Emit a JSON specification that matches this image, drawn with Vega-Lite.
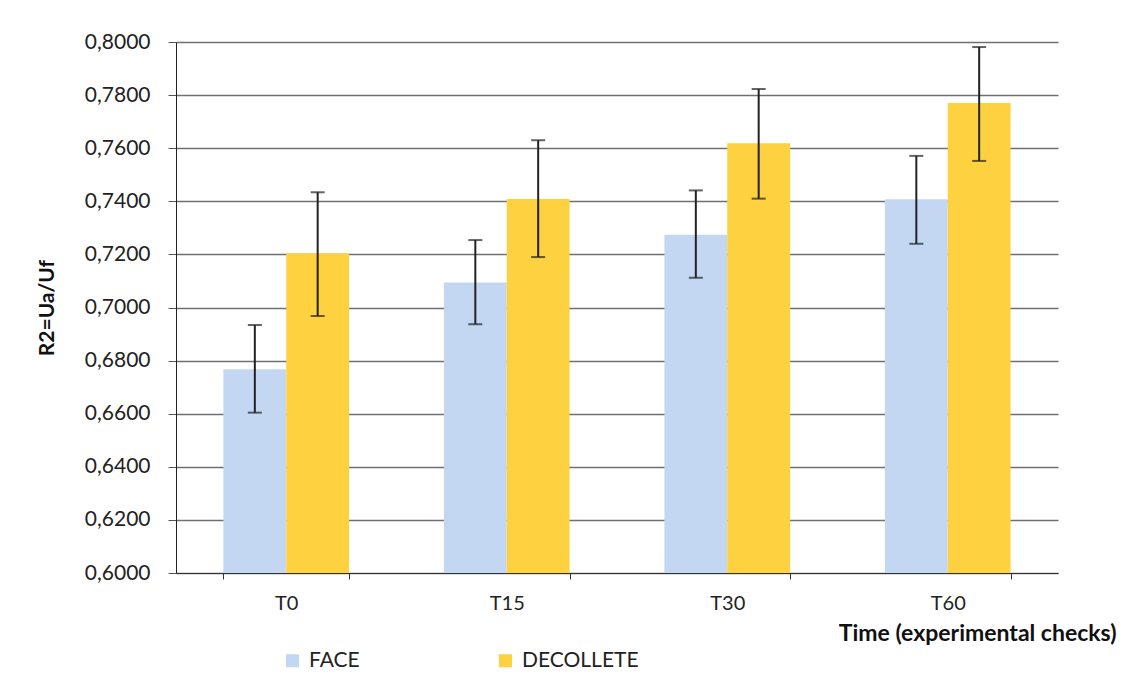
{
  "$schema": "https://vega.github.io/schema/vega-lite/v6.json",
  "width": 882,
  "height": 531,
  "autosize": {"type": "none"},
  "padding": {"left": 176, "top": 42, "right": 68, "bottom": 112},
  "background": "white",
  "config": {
    "font": "Lato",
    "view": {"stroke": null},
    "axis": {"labelFont": "Lato", "titleFont": "Lato", "labelColor": "#222", "titleColor": "#111"}
  },
  "data": {
    "values": [
      {"time": "T0", "group": "FACE", "value": 0.6767, "lo": 0.6604, "hi": 0.6934},
      {"time": "T0", "group": "DECOLLETE", "value": 0.7204, "lo": 0.6968, "hi": 0.7434},
      {"time": "T15", "group": "FACE", "value": 0.7094, "lo": 0.6937, "hi": 0.7254},
      {"time": "T15", "group": "DECOLLETE", "value": 0.7409, "lo": 0.7190, "hi": 0.7630},
      {"time": "T30", "group": "FACE", "value": 0.7274, "lo": 0.7112, "hi": 0.7441},
      {"time": "T30", "group": "DECOLLETE", "value": 0.7619, "lo": 0.7410, "hi": 0.7823},
      {"time": "T60", "group": "FACE", "value": 0.7408, "lo": 0.7240, "hi": 0.7571},
      {"time": "T60", "group": "DECOLLETE", "value": 0.7770, "lo": 0.7552, "hi": 0.7981}
    ]
  },
  "encoding": {
    "x": {
      "field": "time",
      "type": "nominal",
      "sort": ["T0", "T15", "T30", "T60"],
      "scale": {"paddingInner": 0.43, "paddingOuter": 0.215},
      "axis": {
        "title": "Time (experimental checks)",
        "titleFontWeight": "bold",
        "titleFontSize": 23,
        "titleAnchor": null,
        "titleAlign": "right",
        "titleBaseline": "alphabetic",
        "titleX": 940,
        "titleY": 67,
        "labelAngle": 0,
        "labelFontSize": 20,
        "labelPadding": 14,
        "tickBand": "extent",
        "tickSize": 6,
        "tickColor": "#333",
        "domainColor": "#333",
        "grid": false,
        "zindex": 1
      }
    },
    "xOffset": {
      "field": "group",
      "type": "nominal",
      "sort": ["FACE", "DECOLLETE"],
      "scale": {"paddingInner": 0, "paddingOuter": 0}
    }
  },
  "layer": [
    {
      "mark": {"type": "bar", "clip": true},
      "encoding": {
        "y": {
          "field": "value",
          "type": "quantitative",
          "scale": {"domain": [0.6, 0.8], "zero": false, "nice": false},
          "axis": {
            "title": "R2=Ua/Uf",
            "titleFontWeight": "bold",
            "titleFontSize": 21,
            "titlePadding": 27,
            "values": [0.6, 0.62, 0.64, 0.66, 0.68, 0.7, 0.72, 0.74, 0.76, 0.78, 0.8],
            "labelExpr": "replace(format(datum.value, '.4f'), '.', ',')",
            "labelFontSize": 21,
            "labelPadding": 18,
            "tickSize": 8,
            "tickColor": "#555",
            "domainColor": "#222",
            "gridColor": "#707070",
            "gridWidth": 1.3
          }
        },
        "y2": {"datum": 0.6},
        "color": {
          "field": "group",
          "type": "nominal",
          "sort": ["FACE", "DECOLLETE"],
          "scale": {"domain": ["FACE", "DECOLLETE"], "range": ["#C3D7F3", "#FDD13F"]},
          "legend": {
            "title": null,
            "orient": "none",
            "direction": "horizontal",
            "legendX": 106,
            "legendY": 608,
            "symbolType": "square",
            "symbolSize": 170,
            "symbolStrokeWidth": 0,
            "labelFontSize": 21,
            "labelFont": "Lato",
            "labelColor": "#222",
            "labelOffset": 6,
            "columnPadding": 135
          }
        }
      }
    },
    {
      "mark": {"type": "rule", "color": "#222", "strokeWidth": 2},
      "encoding": {
        "y": {"field": "lo", "type": "quantitative"},
        "y2": {"field": "hi"}
      }
    },
    {
      "mark": {"type": "tick", "color": "#222", "thickness": 2, "size": 14},
      "encoding": {"y": {"field": "lo", "type": "quantitative"}}
    },
    {
      "mark": {"type": "tick", "color": "#222", "thickness": 2, "size": 14},
      "encoding": {"y": {"field": "hi", "type": "quantitative"}}
    }
  ]
}
